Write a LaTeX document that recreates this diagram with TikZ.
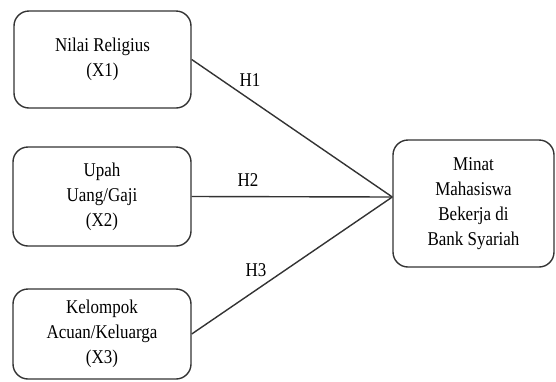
\documentclass[tikz,border=0pt]{standalone}
\usepackage{fontspec}
\setmainfont[FakeStretch=0.87]{Liberation Serif}
\begin{document}
\begin{tikzpicture}[x=1pt,y=-1pt,
  box/.style={draw=black!80, line width=1.4pt, rounded corners=15pt, align=center,
    inner sep=0pt, font=\fontsize{19.5}{25}\selectfont},
  link/.style={draw=black!80, line width=1.4pt},
  hyp/.style={font=\fontsize{19.5}{24}\selectfont}]
\useasboundingbox (0,0) rectangle (556,381);
\node[box, minimum width=177pt, minimum height=97pt] (X1) at (102.5,59.5) {Nilai Religius\\(X1)};
\node[box, minimum width=178pt, minimum height=99pt] (X2) at (102,196.5) {Upah\\Uang/Gaji\\(X2)};
\node[box, minimum width=178pt, minimum height=90pt] (X3) at (102,334) {Kelompok\\Acuan/Keluarga\\(X3)};
\node[box, minimum width=161pt, minimum height=127pt] (Y) at (473.5,203.5) {Minat\\Mahasiswa\\Bekerja di\\Bank Syariah};
\coordinate (J) at ([yshift=6.5pt]Y.west);
\draw[link] (X1.east) -- (J);
\draw[link] (X2.east) -- (J);
\draw[link] (X3.east) -- (J);
\node[hyp] (H1) at (250,80) {H1};
\node[hyp] (H2) at (248,180) {H2};
\node[hyp] (H3) at (256,270) {H3};
\end{tikzpicture}
\end{document}
